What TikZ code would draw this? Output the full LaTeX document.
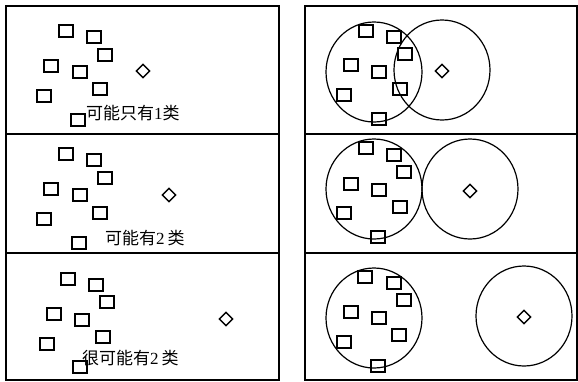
\documentclass[tikz,border=0pt]{standalone}
\usepackage{fontspec}
\setmainfont{Liberation Serif}
\newfontfamily\cjk{Noto Sans CJK SC}
\usetikzlibrary{shapes.geometric}
\tikzset{
  sq/.style={draw, line width=1.6pt, minimum width=14pt, minimum height=12.5pt, inner sep=0pt, fill=white},
  dia/.style={draw, diamond, line width=1.4pt, minimum width=14pt, minimum height=14pt, inner sep=0pt},
  frame/.style={line width=1.4pt},
  ring/.style={draw, ellipse, line width=1.2pt, minimum width=96pt, minimum height=100pt, inner sep=0pt},
  lbl/.style={anchor=west, inner sep=0pt, font=\fontsize{17}{20}\selectfont}
}
\begin{document}
\begin{tikzpicture}[x=1pt,y=-1pt]
\useasboundingbox (0,0) rectangle (578,381);
% frames
\draw[frame] (6,6) rectangle (279,380);
\draw[frame] (6,134) -- (279,134);
\draw[frame] (6,253) -- (279,253);
\draw[frame] (305,6) rectangle (577,380);
\draw[frame] (305,134) -- (577,134);
\draw[frame] (305,253) -- (577,253);
% circles (drawn first)
\node[ring] (rtc1) at (374,72) {};
\node[ring] (rtc2) at (442,70) {};
\node[ring] (rmc1) at (374,189) {};
\node[ring] (rmc2) at (470,189) {};
\node[ring] (rbc1) at (374,318) {};
\node[ring] (rbc2) at (524,316) {};
% left top
\foreach \x/\y [count=\i] in {66/31,94/37,105/55,51/66,80/72,100/89,44/96,78/120}
  \node[sq] (lt\i) at (\x,\y) {};
\node[dia] (ltd) at (143,71) {};
\node[lbl] (ltt) at (86,113) {{\cjk 可能只有}1{\cjk 类}};
% left middle
\foreach \x/\y [count=\i] in {66/154,94/160,105/178,51/189,80/195,100/213,44/219,79/243}
  \node[sq] (lm\i) at (\x,\y) {};
\node[dia] (lmd) at (169,195) {};
\node[lbl] (lmt) at (105,238) {{\cjk 可能有}2\,{\cjk 类}};
% left bottom
\foreach \x/\y [count=\i] in {68/279,96/285,107/302,54/314,82/320,103/337,47/344,80/367}
  \node[sq] (lb\i) at (\x,\y) {};
\node[dia] (lbd) at (226,319) {};
\node[lbl] (lbt) at (82,358) {{\cjk 很可能有}2\,{\cjk 类}};
% right top
\foreach \x/\y [count=\i] in {366/31,394/37,405/54,351/65,379/72,400/89,344/95,379/119}
  \node[sq, fill=none] (rt\i) at (\x,\y) {};
\node[dia] (rtd) at (442,71) {};
% right middle
\foreach \x/\y [count=\i] in {366/148,394/155,404/172,351/184,379/190,400/207,344/213,378/237}
  \node[sq, fill=none] (rm\i) at (\x,\y) {};
\node[dia] (rmd) at (470,191) {};
% right bottom
\foreach \x/\y [count=\i] in {365/277,394/283,404/300,351/312,379/318,399/335,344/342,378/366}
  \node[sq, fill=none] (rb\i) at (\x,\y) {};
\node[dia] (rbd) at (524,317) {};
\end{tikzpicture}
\end{document}
